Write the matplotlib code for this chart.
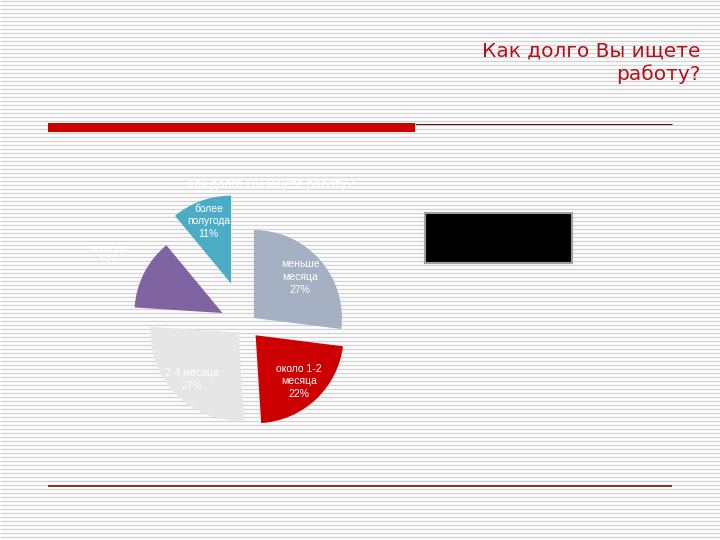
import numpy as np
import matplotlib
matplotlib.use('Agg')
import matplotlib.pyplot as plt
import matplotlib.patches as mpatches

# survey answers
categories = ['меньше\nмесяца', 'около 1-2\nмесяца', '2-4 месяца', 'полгода', 'более\nполугода']
shares = [27, 22, 27, 13, 11]
colors = ['#a5b0c3', '#cc0000', '#e6e6e6', '#8064a2', '#4bacc6']
explode = [0.12, 0.16, 0.12, 0.3, 0.5]
label_dist = [0.7, 0.72, 0.75, 1.45, 0.75]

slide_title = 'Как долго Вы ищете\nработу?'
chart_title = 'Как долго Вы ищете работу?'

fig = plt.figure(figsize=(7.2, 5.4), dpi=100)

# striped slide background, in pixel units
bg = fig.add_axes([0, 0, 1, 1], zorder=0)
bg.set_xlim(0, 720)
bg.set_ylim(540, 0)
bg.axis('off')
bg.hlines(np.arange(1, 540, 4), 0, 720, color='#d4d4d4', lw=1.0, zorder=1)

bg.text(700, 80, slide_title, ha='right', va='baseline', fontsize=14.5,
        color='#b3121b', family='DejaVu Sans', linespacing=1.25, zorder=5)
bg.add_patch(mpatches.Rectangle((48, 123), 367, 9, color='#cc0000', lw=0, zorder=4))
bg.hlines(123.5, 415, 672, color='#4a1c1c', lw=0.8, zorder=4)
bg.hlines(486, 48, 672, color='#6e1414', lw=1.2, zorder=4)

# black legend box
bg.add_patch(mpatches.Rectangle((425, 213), 147, 50, facecolor='black',
                                edgecolor='#a0a0a0', lw=1.5, zorder=4))

bg.text(270, 185, chart_title, ha='center', va='center', fontsize=9,
        color='white', family='Liberation Sans', zorder=5)

# pie
ax = fig.add_axes([0.1583, 0.1537, 0.3667, 0.4889], zorder=1)
ax.patch.set_alpha(0)
wedges, texts = ax.pie(shares, colors=colors, explode=explode, startangle=90,
                       counterclock=False, radius=1.0)
ax.set_xlim(-1.5, 1.5)
ax.set_ylim(-1.5, 1.5)
ax.set_aspect('equal')
ax.axis('off')

for w, cat, val, d in zip(wedges, categories, shares, label_dist):
    th = np.deg2rad((w.theta1 + w.theta2) / 2)
    cx, cy = w.center
    ax.text(cx + d * w.r * np.cos(th), cy + d * w.r * np.sin(th),
            '%s\n%d%%' % (cat, val), ha='center', va='center',
            fontsize=7.5, color='white', family='Liberation Sans',
            linespacing=1.35)

fig.savefig('out.png', dpi=100)
